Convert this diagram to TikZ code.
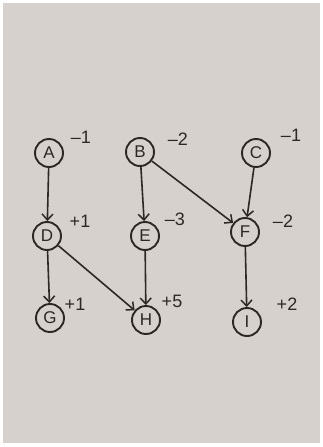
\documentclass[tikz,border=0pt]{standalone}
\usepackage{fontspec}
\setmainfont{Liberation Sans}
\usetikzlibrary{arrows.meta}
\definecolor{paper}{RGB}{214,209,204}
\definecolor{ink}{RGB}{45,40,36}
\tikzset{
  vnode/.style={circle, draw=ink, line width=1.9pt, minimum size=28pt, inner sep=0pt, text=ink, font=\fontsize{17}{17}\selectfont},
  wlabel/.style={text=ink, font=\fontsize{18}{18}\selectfont, inner sep=0pt},
  edge/.style={draw=ink, line width=1.6pt, -{Straight Barb[length=6pt,width=11pt,line width=1.5pt]}}
}
\begin{document}
\begin{tikzpicture}[x=1pt,y=-1pt]
\useasboundingbox (0,0) rectangle (323,447);
\fill[white] (0,0) rectangle (323,447);
\fill[paper] (3,3) rectangle (320,443);
\node[vnode] (A) at (49,153) {A};
\node[vnode] (B) at (140,152) {B};
\node[vnode] (C) at (256,153) {C};
\node[vnode] (D) at (47,236) {D};
\node[vnode] (E) at (145,236) {E};
\node[vnode] (F) at (245,232) {F};
\node[vnode] (G) at (50,318) {G};
\node[vnode] (H) at (146,320) {H};
\node[vnode] (I) at (247,322) {I};
\node[wlabel] (lA) at (81,137) {–1};
\node[wlabel] (lB) at (178,139) {–2};
\node[wlabel] (lC) at (291,135) {–1};
\node[wlabel] (lD) at (80,221) {+1};
\node[wlabel] (lE) at (175,219) {–3};
\node[wlabel] (lF) at (283,221) {–2};
\node[wlabel] (lG) at (75,304) {+1};
\node[wlabel] (lH) at (172,301) {+5};
\node[wlabel] (lI) at (287,304) {+2};
\draw[edge] (A) -- (D);
\draw[edge] (B) -- (E);
\draw[edge] (B) -- (F);
\draw[edge] (C) -- (F);
\draw[edge] (D) -- (G);
\draw[edge] (D) -- (H);
\draw[edge] (E) -- (H);
\draw[edge] (F) -- (I);
\end{tikzpicture}
\end{document}
